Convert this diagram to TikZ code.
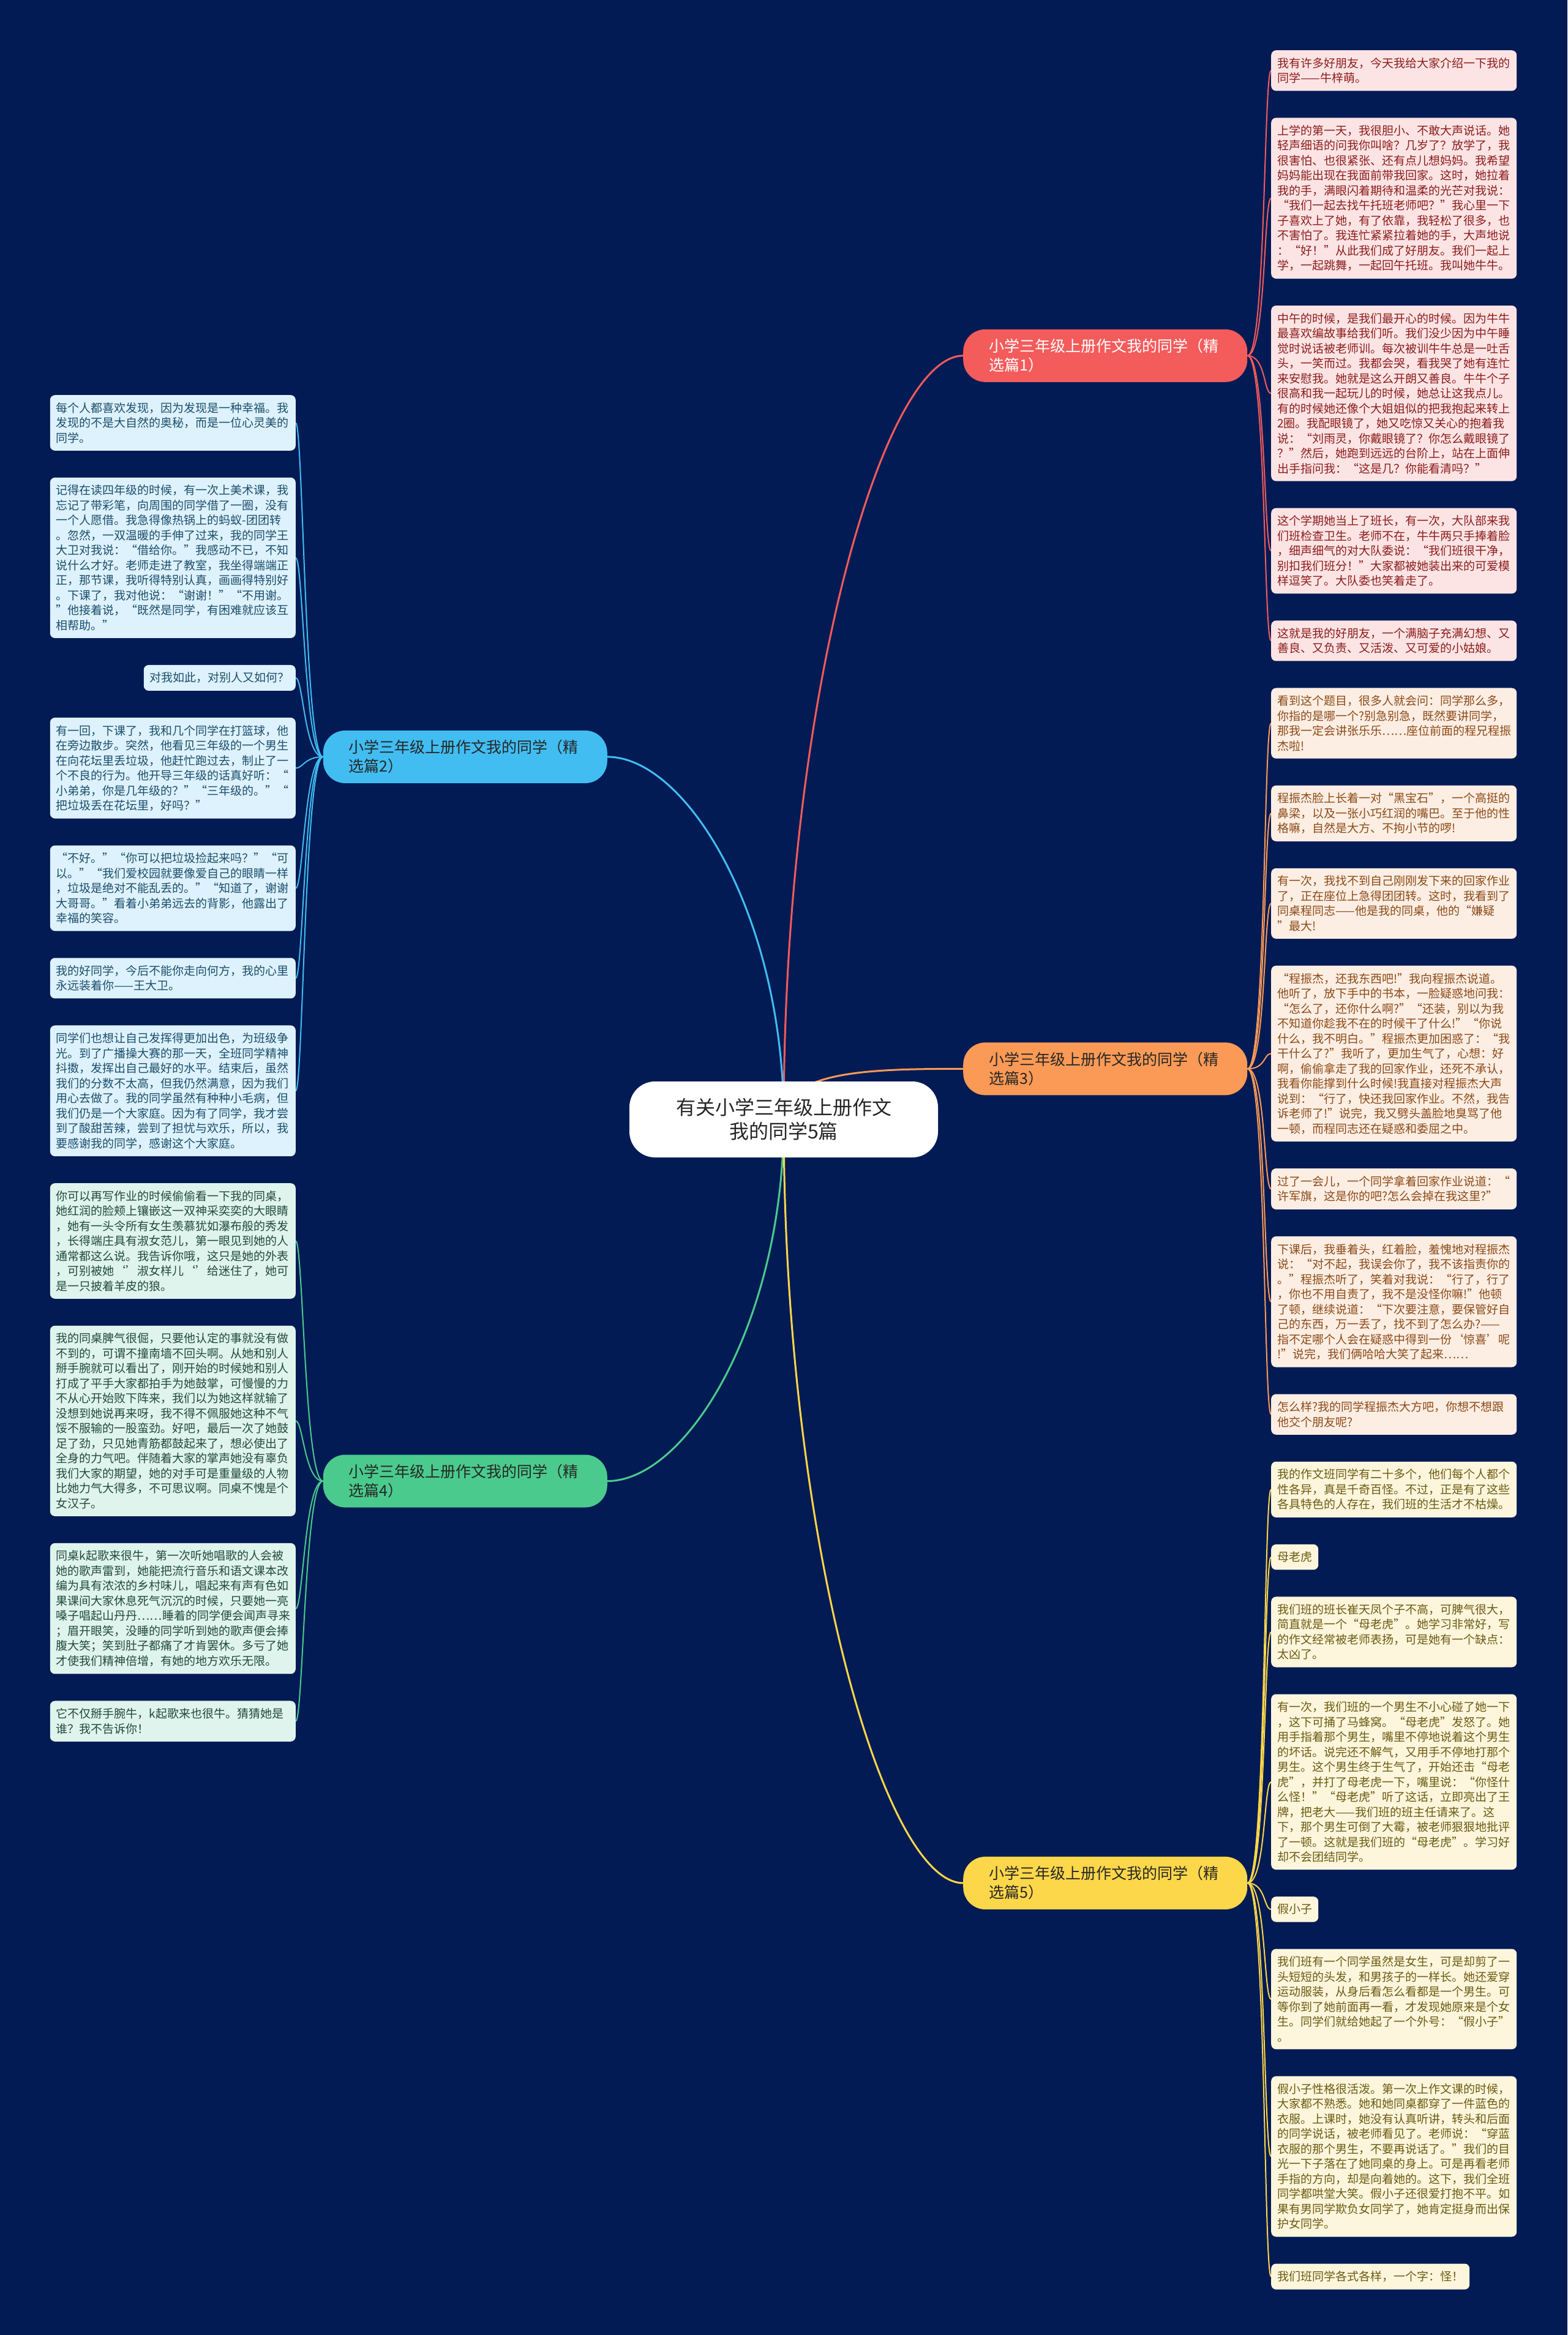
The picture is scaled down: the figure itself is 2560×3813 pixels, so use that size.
\documentclass[tikz,border=0pt]{standalone}
\usepackage{fontspec}
\newfontfamily\cjk{Noto Sans CJK SC}
\usepackage{xcolor}
\usepackage{tikz}
\usetikzlibrary{positioning,calc,backgrounds}

\definecolor{navy}{RGB}{3,27,84}
\definecolor{redbr}{HTML}{F45B5B}
\definecolor{bluebr}{HTML}{41BDF2}
\definecolor{orangebr}{HTML}{FB9A56}
\definecolor{greenbr}{HTML}{4ACB8D}
\definecolor{yellowbr}{HTML}{FDD74A}
\definecolor{pinkbg}{HTML}{FDE4E4}
\definecolor{pinktx}{HTML}{8B1C1C}
\definecolor{peachbg}{HTML}{FDEEE4}
\definecolor{peachtx}{HTML}{8B4A16}
\definecolor{creambg}{HTML}{FDF6DC}
\definecolor{creamtx}{HTML}{6B5A12}
\definecolor{skybg}{HTML}{DDF2FC}
\definecolor{skytx}{HTML}{1C4D6B}
\definecolor{mintbg}{HTML}{DFF4EC}
\definecolor{minttx}{HTML}{22493D}

\begin{document}
\begin{tikzpicture}[
  x=1pt, y=-1pt,
  topic/.style={fill=white, rounded corners=42pt, minimum width=504pt, minimum height=124pt, align=center, text=black!85, font=\cjk\fontsize{32}{39}\selectfont},
  branch/.style={rounded corners=36pt, minimum height=86pt, text width=380pt, inner xsep=42pt, align=left, text=black!85, font=\cjk\fontsize{25}{31}\selectfont},
  leaf/.style={rounded corners=8pt, inner xsep=10pt, inner ysep=12pt, align=left, font=\cjk\fontsize{19}{24.5}\selectfont},
  pk/.style={leaf, fill=pinkbg, text=pinktx, text width=381pt},
  pc/.style={leaf, fill=peachbg, text=peachtx, text width=381pt},
  cr/.style={leaf, fill=creambg, text=creamtx, text width=381pt},
  sk/.style={leaf, fill=skybg, text=skytx, text width=381pt},
  mt/.style={leaf, fill=mintbg, text=minttx, text width=381pt},
  rnext/.style={below=43.6pt of #1.south west, anchor=north west},
  lnext/.style={below=43.6pt of #1.south east, anchor=north east},
  trunk/.style={line width=3pt},
  twig/.style={line width=2pt}
]
\useasboundingbox (0,0) rectangle (2560,3813);
\begin{scope}[on background layer]
  \fill[navy] (0,0) rectangle (2560,3813);
\end{scope}

\node[topic] (root) at (1280,1828) {有关小学三年级上册作文\\我的同学5篇};

% right side
\node[pk, anchor=north west] (r1a) at (2076,82) {我有许多好朋友，今天我给大家介绍一下我的\\同学——牛梓萌。};
\node[pk, rnext=r1a] (r1b) {上学的第一天，我很胆小、不敢大声说话。她\\轻声细语的问我你叫啥？几岁了？放学了，我\\很害怕、也很紧张、还有点儿想妈妈。我希望\\妈妈能出现在我面前带我回家。这时，她拉着\\我的手，满眼闪着期待和温柔的光芒对我说：\\“我们一起去找午托班老师吧？”我心里一下\\子喜欢上了她，有了依靠，我轻松了很多，也\\不害怕了。我连忙紧紧拉着她的手，大声地说\\：“好！”从此我们成了好朋友。我们一起上\\学，一起跳舞，一起回午托班。我叫她牛牛。};
\node[pk, rnext=r1b] (r1c) {中午的时候，是我们最开心的时候。因为牛牛\\最喜欢编故事给我们听。我们没少因为中午睡\\觉时说话被老师训。每次被训牛牛总是一吐舌\\头，一笑而过。我都会哭，看我哭了她有连忙\\来安慰我。她就是这么开朗又善良。牛牛个子\\很高和我一起玩儿的时候，她总让这我点儿。\\有的时候她还像个大姐姐似的把我抱起来转上\\2圈。我配眼镜了，她又吃惊又关心的抱着我\\说：“刘雨灵，你戴眼镜了？你怎么戴眼镜了\\？”然后，她跑到远远的台阶上，站在上面伸\\出手指问我：“这是几？你能看清吗？”};
\node[pk, rnext=r1c] (r1d) {这个学期她当上了班长，有一次，大队部来我\\们班检查卫生。老师不在，牛牛两只手捧着脸\\，细声细气的对大队委说：“我们班很干净，\\别扣我们班分！”大家都被她装出来的可爱模\\样逗笑了。大队委也笑着走了。};
\node[pk, rnext=r1d] (r1e) {这就是我的好朋友，一个满脑子充满幻想、又\\善良、又负责、又活泼、又可爱的小姑娘。};

\node[pc, rnext=r1e] (r3a) {看到这个题目，很多人就会问：同学那么多，\\你指的是哪一个?别急别急，既然要讲同学，\\那我一定会讲张乐乐……座位前面的程兄程振\\杰啦!};
\node[pc, rnext=r3a] (r3b) {程振杰脸上长着一对“黑宝石”，一个高挺的\\鼻梁，以及一张小巧红润的嘴巴。至于他的性\\格嘛，自然是大方、不拘小节的啰!};
\node[pc, rnext=r3b] (r3c) {有一次，我找不到自己刚刚发下来的回家作业\\了，正在座位上急得团团转。这时，我看到了\\同桌程同志——他是我的同桌，他的“嫌疑\\”最大!};
\node[pc, rnext=r3c] (r3d) {“程振杰，还我东西吧!”我向程振杰说道。\\他听了，放下手中的书本，一脸疑惑地问我：\\“怎么了，还你什么啊?”“还装，别以为我\\不知道你趁我不在的时候干了什么!”“你说\\什么，我不明白。”程振杰更加困惑了：“我\\干什么了?”我听了，更加生气了，心想：好\\啊，偷偷拿走了我的回家作业，还死不承认，\\我看你能撑到什么时候!我直接对程振杰大声\\说到：“行了，快还我回家作业。不然，我告\\诉老师了!”说完，我又劈头盖脸地臭骂了他\\一顿，而程同志还在疑惑和委屈之中。};
\node[pc, rnext=r3d] (r3e) {过了一会儿，一个同学拿着回家作业说道：“\\许军旗，这是你的吧?怎么会掉在我这里?”};
\node[pc, rnext=r3e] (r3f) {下课后，我垂着头，红着脸，羞愧地对程振杰\\说：“对不起，我误会你了，我不该指责你的\\。”程振杰听了，笑着对我说：“行了，行了\\，你也不用自责了，我不是没怪你嘛!”他顿\\了顿，继续说道：“下次要注意，要保管好自\\己的东西，万一丢了，找不到了怎么办?——\\指不定哪个人会在疑惑中得到一份‘惊喜’呢\\!”说完，我们俩哈哈大笑了起来……};
\node[pc, rnext=r3f] (r3g) {怎么样?我的同学程振杰大方吧，你想不想跟\\他交个朋友呢?};

\node[cr, rnext=r3g] (r5a) {我的作文班同学有二十多个，他们每个人都个\\性各异，真是千奇百怪。不过，正是有了这些\\各具特色的人存在，我们班的生活才不枯燥。};
\node[leaf, fill=creambg, text=creamtx, rnext=r5a] (r5b) {母老虎};
\node[cr, rnext=r5b] (r5c) {我们班的班长崔天凤个子不高，可脾气很大，\\简直就是一个“母老虎”。她学习非常好，写\\的作文经常被老师表扬，可是她有一个缺点：\\太凶了。};
\node[cr, rnext=r5c] (r5d) {有一次，我们班的一个男生不小心碰了她一下\\，这下可捅了马蜂窝。“母老虎”发怒了。她\\用手指着那个男生，嘴里不停地说着这个男生\\的坏话。说完还不解气，又用手不停地打那个\\男生。这个男生终于生气了，开始还击“母老\\虎”，并打了母老虎一下，嘴里说：“你怪什\\么怪！”“母老虎”听了这话，立即亮出了王\\牌，把老大——我们班的班主任请来了。这\\下，那个男生可倒了大霉，被老师狠狠地批评\\了一顿。这就是我们班的“母老虎”。学习好\\却不会团结同学。};
\node[leaf, fill=creambg, text=creamtx, rnext=r5d] (r5e) {假小子};
\node[cr, rnext=r5e] (r5f) {我们班有一个同学虽然是女生，可是却剪了一\\头短短的头发，和男孩子的一样长。她还爱穿\\运动服装，从身后看怎么看都是一个男生。可\\等你到了她前面再一看，才发现她原来是个女\\生。同学们就给她起了一个外号：“假小子”\\。};
\node[cr, rnext=r5f] (r5g) {假小子性格很活泼。第一次上作文课的时候，\\大家都不熟悉。她和她同桌都穿了一件蓝色的\\衣服。上课时，她没有认真听讲，转头和后面\\的同学说话，被老师看见了。老师说：“穿蓝\\衣服的那个男生，不要再说话了。”我们的目\\光一下子落在了她同桌的身上。可是再看老师\\手指的方向，却是向着她的。这下，我们全班\\同学都哄堂大笑。假小子还很爱打抱不平。如\\果有男同学欺负女同学了，她肯定挺身而出保\\护女同学。};
\node[leaf, fill=creambg, text=creamtx, rnext=r5g] (r5h) {我们班同学各式各样，一个字：怪！};

% left side
\node[sk, anchor=north east] (l2a) at (483,645) {每个人都喜欢发现，因为发现是一种幸福。我\\发现的不是大自然的奥秘，而是一位心灵美的\\同学。};
\node[sk, lnext=l2a] (l2b) {记得在读四年级的时候，有一次上美术课，我\\忘记了带彩笔，向周围的同学借了一圈，没有\\一个人愿借。我急得像热锅上的蚂蚁-团团转\\。忽然，一双温暖的手伸了过来，我的同学王\\大卫对我说：“借给你。”我感动不已，不知\\说什么才好。老师走进了教室，我坐得端端正\\正，那节课，我听得特别认真，画画得特别好\\。下课了，我对他说：“谢谢！”“不用谢。\\”他接着说，“既然是同学，有困难就应该互\\相帮助。”};
\node[leaf, fill=skybg, text=skytx, lnext=l2b] (l2c) {对我如此，对别人又如何？};
\node[sk, lnext=l2c] (l2d) {有一回，下课了，我和几个同学在打篮球，他\\在旁边散步。突然，他看见三年级的一个男生\\在向花坛里丢垃圾，他赶忙跑过去，制止了一\\个不良的行为。他开导三年级的话真好听：“\\小弟弟，你是几年级的？”“三年级的。”“\\把垃圾丢在花坛里，好吗？”};
\node[sk, lnext=l2d] (l2e) {“不好。”“你可以把垃圾捡起来吗？”“可\\以。”“我们爱校园就要像爱自己的眼睛一样\\，垃圾是绝对不能乱丢的。”“知道了，谢谢\\大哥哥。”看着小弟弟远去的背影，他露出了\\幸福的笑容。};
\node[sk, lnext=l2e] (l2f) {我的好同学，今后不能你走向何方，我的心里\\永远装着你——王大卫。};
\node[sk, lnext=l2f] (l2g) {同学们也想让自己发挥得更加出色，为班级争\\光。到了广播操大赛的那一天，全班同学精神\\抖擞，发挥出自己最好的水平。结束后，虽然\\我们的分数不太高，但我仍然满意，因为我们\\用心去做了。我的同学虽然有种种小毛病，但\\我们仍是一个大家庭。因为有了同学，我才尝\\到了酸甜苦辣，尝到了担忧与欢乐，所以，我\\要感谢我的同学，感谢这个大家庭。};

\node[mt, lnext=l2g] (l4a) {你可以再写作业的时候偷偷看一下我的同桌，\\她红润的脸颊上镶嵌这一双神采奕奕的大眼睛\\，她有一头令所有女生羡慕犹如瀑布般的秀发\\，长得端庄具有淑女范儿，第一眼见到她的人\\通常都这么说。我告诉你哦，这只是她的外表\\，可别被她‘’淑女样儿‘’给迷住了，她可\\是一只披着羊皮的狼。};
\node[mt, lnext=l4a] (l4b) {我的同桌脾气很倔，只要他认定的事就没有做\\不到的，可谓不撞南墙不回头啊。从她和别人\\掰手腕就可以看出了，刚开始的时候她和别人\\打成了平手大家都拍手为她鼓掌，可慢慢的力\\不从心开始败下阵来，我们以为她这样就输了\\没想到她说再来呀，我不得不佩服她这种不气\\馁不服输的一股蛮劲。好吧，最后一次了她鼓\\足了劲，只见她青筋都鼓起来了，想必使出了\\全身的力气吧。伴随着大家的掌声她没有辜负\\我们大家的期望，她的对手可是重量级的人物\\比她力气大得多，不可思议啊。同桌不愧是个\\女汉子。};
\node[mt, lnext=l4b] (l4c) {同桌k起歌来很牛，第一次听她唱歌的人会被\\她的歌声雷到，她能把流行音乐和语文课本改\\编为具有浓浓的乡村味儿，唱起来有声有色如\\果课间大家休息死气沉沉的时候，只要她一亮\\嗓子唱起山丹丹……睡着的同学便会闻声寻来\\；眉开眼笑，没睡的同学听到她的歌声便会捧\\腹大笑；笑到肚子都痛了才肯罢休。多亏了她\\才使我们精神倍增，有她的地方欢乐无限。};
\node[mt, lnext=l4c] (l4d) {它不仅掰手腕牛，k起歌来也很牛。猜猜她是\\谁？我不告诉你！};

% branches sit halfway between their first and last note
\path (r1a.center) -- (r1e.center) coordinate[pos=.5] (m1);
\path (l2a.center) -- (l2g.center) coordinate[pos=.5] (m2);
\path (r3a.center) -- (r3g.center) coordinate[pos=.5] (m3);
\path (l4a.center) -- (l4d.center) coordinate[pos=.5] (m4);
\path (r5a.center) -- (r5h.center) coordinate[pos=.5] (m5);

\node[branch, fill=redbr, text=white, anchor=west] (b1) at (1573,0 |- m1) {小学三年级上册作文我的同学（精\\选篇1）};
\node[branch, fill=bluebr, anchor=east] (b2) at (992,0 |- m2) {小学三年级上册作文我的同学（精\\选篇2）};
\node[branch, fill=orangebr, anchor=west] (b3) at (1573,0 |- m3) {小学三年级上册作文我的同学（精\\选篇3）};
\node[branch, fill=greenbr, anchor=east] (b4) at (992,0 |- m4) {小学三年级上册作文我的同学（精\\选篇4）};
\node[branch, fill=yellowbr, anchor=west] (b5) at (1573,0 |- m5) {小学三年级上册作文我的同学（精\\选篇5）};

\begin{scope}[on background layer]
  \draw[trunk, redbr] (root.center) .. controls +(0,-690) and +(-130,0) .. (b1.west);
  \draw[trunk, bluebr] (root.center) .. controls +(0,-330) and +(130,0) .. (b2.east);
  \draw[trunk, orangebr] (root.center) .. controls +(0,-80) and +(-150,0) .. (b3.west);
  \draw[trunk, greenbr] (root.center) .. controls +(0,330) and +(130,0) .. (b4.east);
  \draw[trunk, yellowbr] (root.center) .. controls +(0,680) and +(-130,0) .. (b5.west);

  \foreach \n in {r1a,r1b,r1c,r1d,r1e}
    \draw[twig, redbr] (b1.east) .. controls +(30,0) and +(-12,0) .. (\n.west);
  \foreach \n in {r3a,r3b,r3c,r3d,r3e,r3f,r3g}
    \draw[twig, orangebr] (b3.east) .. controls +(30,0) and +(-12,0) .. (\n.west);
  \foreach \n in {r5a,r5b,r5c,r5d,r5e,r5f,r5g,r5h}
    \draw[twig, yellowbr] (b5.east) .. controls +(30,0) and +(-12,0) .. (\n.west);
  \foreach \n in {l2a,l2b,l2c,l2d,l2e,l2f,l2g}
    \draw[twig, bluebr] (b2.west) .. controls +(-30,0) and +(12,0) .. (\n.east);
  \foreach \n in {l4a,l4b,l4c,l4d}
    \draw[twig, greenbr] (b4.west) .. controls +(-30,0) and +(12,0) .. (\n.east);
\end{scope}
\end{tikzpicture}
\end{document}
